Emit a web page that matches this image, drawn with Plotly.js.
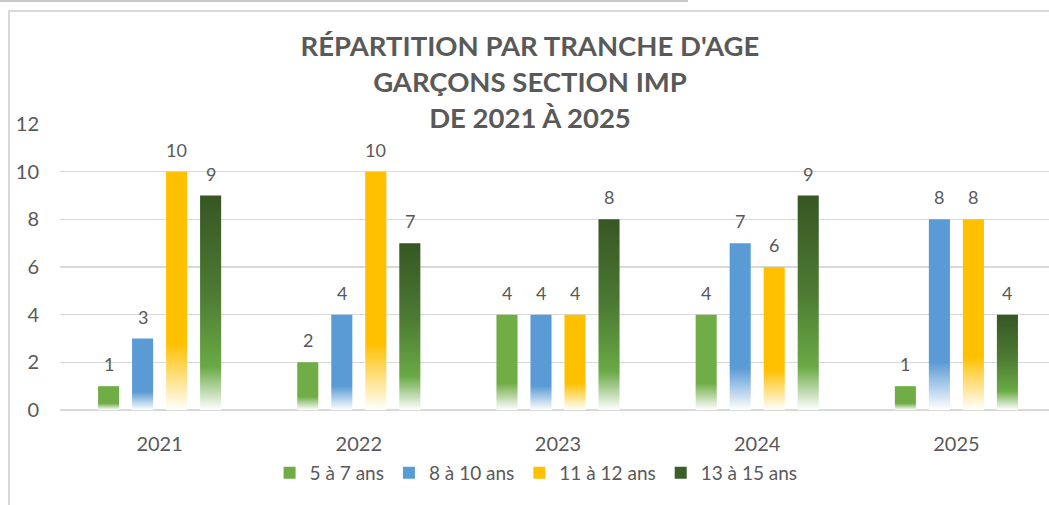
<!DOCTYPE html>
<html>
<head>
<meta charset="utf-8">
<script src="https://cdn.plot.ly/plotly-3.0.1.min.js"></script>
<style>
html,body{margin:0;padding:0;overflow:hidden;background:#fff;}
#chart{width:1060px;height:505px;}
</style>
</head>
<body>
<div id="chart"></div>
<script>
const years = ['2021', '2022', '2023', '2024', '2025'];
const seriesNames = ['5 à 7 ans', '8 à 10 ans', '11 à 12 ans', '13 à 15 ans'];
const v5to7 = [1, 2, 4, 4, 1];
const v8to10 = [3, 4, 4, 7, 8];
const v11to12 = [10, 10, 4, 6, 8];
const v13to15 = [9, 7, 8, 9, 4];
const seriesValues = [v5to7, v8to10, v11to12, v13to15];
const seriesColors = ['#70AD47', '#5B9BD5', '#FFC000', '#3B5F29'];
const yTicks = [0, 2, 4, 6, 8, 10, 12];
const titleLines = ["RÉPARTITION PAR TRANCHE D'AGE", 'GARÇONS SECTION IMP', 'DE 2021 À 2025'];

// gradient stops (offset from bar top, colour)
const gradients = [
  [[0, '#70AD47'], [0.72, '#70AD47'], [1, '#FFFFFF']],
  [[0, '#5B9BD5'], [0.75, '#5B9BD5'], [1, '#FFFFFF']],
  [[0, '#FFC000'], [0.72, '#FFC000'], [1, '#FFFFFF']],
  [[0, '#375623'], [0.45, '#4C7A33'], [0.8, '#6AAA45'], [1, '#FFFFFF']]
];

const W = 1060, H = 505, ML = 60, MR = 4, MT = 124, MB = 95;
const BARGAP = 0.317, BARGROUPGAP = 0.38;
const textColor = '#595959';
const fontFam = 'Lato, "Open Sans", sans-serif';

const traces = seriesNames.map((name, i) => ({
  type: 'bar',
  name: name,
  x: years,
  y: seriesValues[i],
  marker: {color: seriesColors[i], line: {width: 0}},
  hoverinfo: 'skip'
}));

const plotW = W - ML - MR;
const pitch = (1 - BARGAP) * plotW / years.length / seriesNames.length;
const annotations = [];
seriesValues.forEach((vals, i) => {
  vals.forEach((v, j) => {
    annotations.push({
      x: j, y: v, xref: 'x', yref: 'y',
      text: String(v), showarrow: false,
      xshift: (i - (seriesNames.length - 1) / 2) * pitch,
      yshift: 22, yanchor: 'middle',
      font: {family: fontFam, size: 18, color: textColor}
    });
  });
});

const frameColor = '#D9D9D9';
const shapes = [
  {type: 'line', xref: 'paper', yref: 'paper', xsizemode: 'pixel', ysizemode: 'pixel',
   xanchor: 0, yanchor: 0, x0: -51, x1: -51, y0: 400, y1: -100,
   line: {color: frameColor, width: 2}},
  {type: 'line', xref: 'paper', yref: 'paper', xsizemode: 'pixel', ysizemode: 'pixel',
   xanchor: 0, yanchor: 0, x0: -51, x1: 1010, y0: 399, y1: 399,
   line: {color: frameColor, width: 2}},
  {type: 'line', xref: 'paper', yref: 'paper', xsizemode: 'pixel', ysizemode: 'pixel',
   xanchor: 0, yanchor: 0, x0: -62, x1: 628, y0: 409, y1: 409,
   line: {color: '#C8C8C8', width: 2}}
];

const layout = {
  width: W, height: H,
  margin: {l: ML, r: MR, t: MT, b: MB},
  paper_bgcolor: '#FFFFFF', plot_bgcolor: '#FFFFFF',
  font: {family: fontFam, color: textColor},
  title: {
    text: '<b>' + titleLines.join('<br>') + '</b>',
    x: 0.5, xanchor: 'center', xref: 'container',
    y: 1 - 56 / H, yanchor: 'top', yref: 'container',
    font: {family: fontFam, size: 27.5, color: textColor}
  },
  barmode: 'group', bargap: BARGAP, bargroupgap: BARGROUPGAP,
  xaxis: {
    type: 'category', showgrid: false, showline: false, zeroline: false,
    ticks: '', ticklabelstandoff: 20,
    tickfont: {family: fontFam, size: 20, color: textColor}
  },
  yaxis: {
    range: [0, 12], tickvals: yTicks, ticktext: yTicks.map(String),
    showgrid: true, gridcolor: '#D9D9D9', gridwidth: 1.5,
    zeroline: true, zerolinecolor: '#D9D9D9', zerolinewidth: 1.5,
    showline: false, ticks: '', ticklabelstandoff: 20,
    tickfont: {family: fontFam, size: 20, color: textColor}
  },
  legend: {
    orientation: 'h', x: 0.478, xanchor: 'center', y: (410 - 473) / 286, yanchor: 'middle',
    font: {family: fontFam, size: 19, color: textColor},
    itemwidth: 30, traceorder: 'normal'
  },
  annotations: annotations,
  shapes: shapes,
  showlegend: true
};

Plotly.newPlot('chart', traces, layout, {displayModeBar: false, staticPlot: true, responsive: false}).then(gd => {
  const svg = gd.querySelector('svg.main-svg');
  let defs = svg.querySelector('defs');
  const NS = 'http://www.w3.org/2000/svg';
  if (!defs) { defs = document.createElementNS(NS, 'defs'); svg.insertBefore(defs, svg.firstChild); }
  gradients.forEach((stops, i) => {
    const lg = document.createElementNS(NS, 'linearGradient');
    lg.setAttribute('id', 'bargrad' + i);
    lg.setAttribute('x1', '0'); lg.setAttribute('y1', '0');
    lg.setAttribute('x2', '0'); lg.setAttribute('y2', '1');
    stops.forEach(s => {
      const st = document.createElementNS(NS, 'stop');
      st.setAttribute('offset', s[0]);
      st.setAttribute('stop-color', s[1]);
      lg.appendChild(st);
    });
    defs.appendChild(lg);
  });
  const barTraces = gd.querySelectorAll('.barlayer .trace.bars');
  barTraces.forEach((tr, i) => {
    tr.querySelectorAll('path').forEach(p => {
      p.style.fill = 'url(#bargrad' + i + ')';
      p.style.fillOpacity = 1;
    });
  });
});
</script>
</body>
</html>
